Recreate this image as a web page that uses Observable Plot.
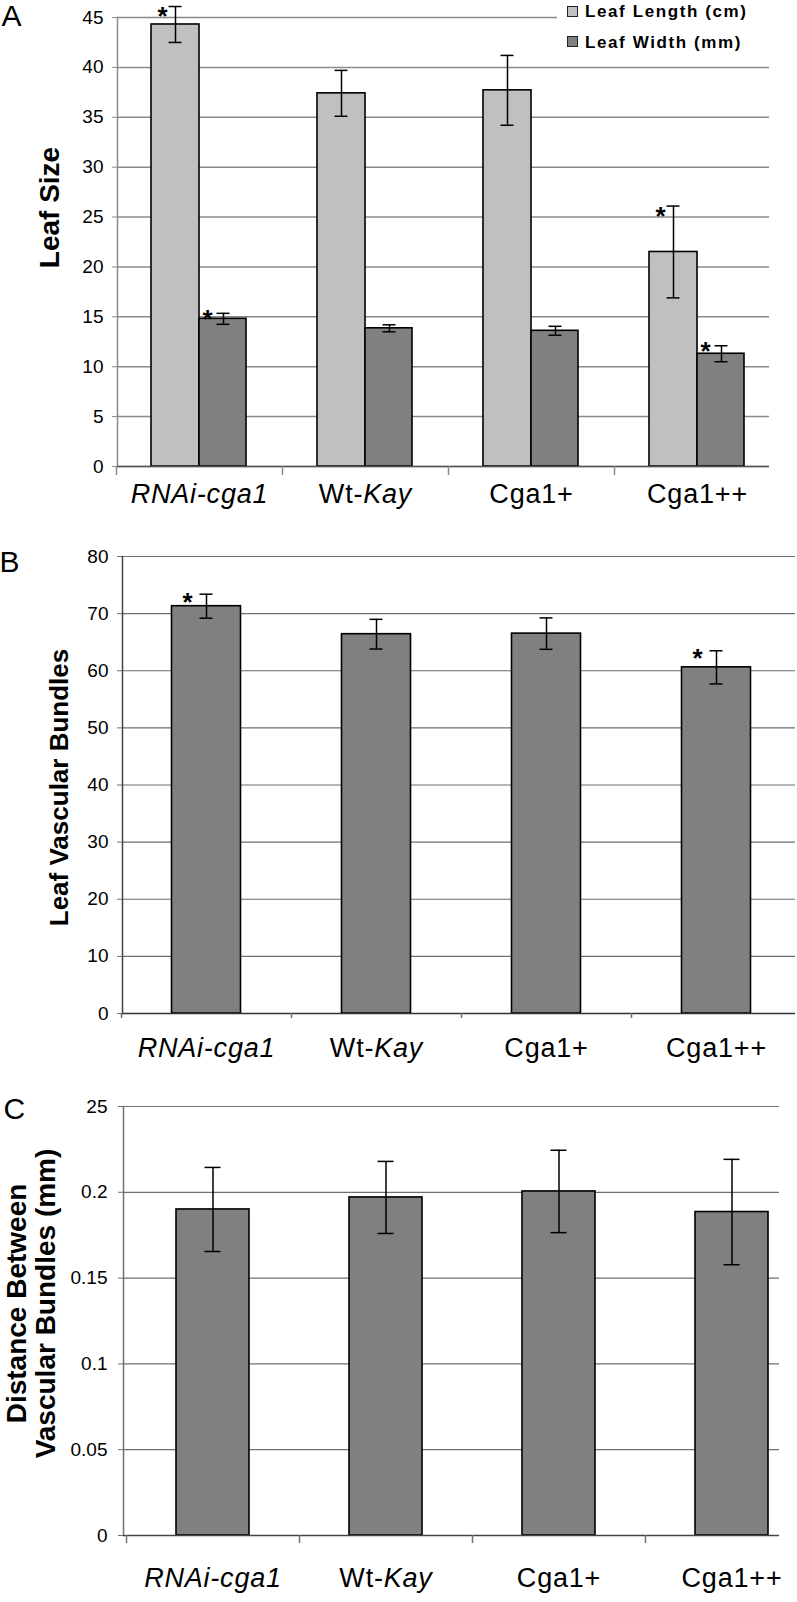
<!DOCTYPE html>
<html><head><meta charset="utf-8">
<script src="https://cdn.jsdelivr.net/npm/d3@7"></script>
<script src="https://cdn.jsdelivr.net/npm/@observablehq/plot@0.6"></script>
<style>
body{margin:0;background:#fff;font-family:"Liberation Sans",Arial,sans-serif}
#wrap{position:relative;width:797px;height:1602px;overflow:hidden;background:#fff}
#wrap svg{display:block}
.legend{position:absolute;left:557px;top:0;width:240px;height:58px;background:#fff}
.legend .sw{position:absolute;left:10px;width:9px;height:9px;border:1.5px solid #222}
.legend .lab{position:absolute;left:28px;font-size:17px;line-height:17px;font-weight:bold;letter-spacing:1.6px;color:#000;white-space:nowrap}
</style></head><body><div id="wrap"></div>
<script>
// ---- data ----
const categories = ["RNAi-cga1", "Wt-Kay", "Cga1+", "Cga1++"];
const leafLength = [44.3, 37.4, 37.7, 21.5];
const leafLengthErr = [1.8, 2.3, 3.5, 4.6];
const leafLengthSig = [true, false, false, true];
const leafWidth = [14.8, 13.85, 13.6, 11.3];
const leafWidthErr = [0.55, 0.35, 0.45, 0.8];
const leafWidthSig = [true, false, false, true];
const bundles = [71.3, 66.4, 66.5, 60.6];
const bundlesErr = [2.1, 2.6, 2.75, 2.9];
const bundlesSig = [true, false, false, true];
const distance = [0.19, 0.197, 0.2005, 0.1885];
const distanceErr = [0.0245, 0.021, 0.024, 0.0307];
const distanceSig = [false, false, false, false];
const ticksA = [0, 5, 10, 15, 20, 25, 30, 35, 40, 45];
const ticksB = [0, 10, 20, 30, 40, 50, 60, 70, 80];
const ticksC = [0, 0.05, 0.1, 0.15, 0.2, 0.25];
const tickLabelsC = ["0", "0.05", "0.1", "0.15", "0.2", "25"];
const legendLabels = ["Leaf Length (cm)", "Leaf Width (mm)"];
const colorLight = "#c0c0c0";
const colorDark = "#808080";

const FONT = "'Liberation Sans', Arial, sans-serif";
const wrap = document.getElementById("wrap");

function rows(values, errs, sig) {
  return categories.map((c, i) => ({cat: c, v: values[i], lo: values[i] - errs[i], hi: values[i] + errs[i], sig: sig[i]}));
}

function panel(cfg) {
  const W = 797;
  const step = (cfg.xRange[1] - cfg.xRange[0]) / categories.length;
  const half = step / 2;
  const marks = [];
  marks.push(Plot.gridY(cfg.yTicks, {stroke: cfg.gridColor, strokeOpacity: 1, strokeWidth: cfg.gridWidth}));
  for (const s of cfg.series) {
    marks.push(Plot.barY(s.data, {x: "cat", y: "v", fill: s.fill, stroke: "#000", strokeWidth: 1.6,
      insetLeft: half + s.barL, insetRight: half - s.barR}));
  }
  for (const s of cfg.series) {
    const ci = half - s.capW / 2;
    marks.push(Plot.ruleX(s.data, {x: "cat", y1: "lo", y2: "hi", dx: s.errDx, stroke: "#000", strokeWidth: 1.5}));
    marks.push(Plot.tickY(s.data, {x: "cat", y: "hi", dx: s.errDx, insetLeft: ci, insetRight: ci, stroke: "#000", strokeWidth: 1.5}));
    marks.push(Plot.tickY(s.data, {x: "cat", y: "lo", dx: s.errDx, insetLeft: ci, insetRight: ci, stroke: "#000", strokeWidth: 1.5}));
    marks.push(Plot.text(s.data.filter(d => d.sig), {x: "cat", y: "hi", text: () => "*", dx: s.errDx + s.starDx, dy: s.starDy || 0,
      lineAnchor: "top", fontSize: 26, fontWeight: "bold", fill: "#000"}));
  }
  marks.push(Plot.frame({anchor: "left", stroke: cfg.axisColor, strokeWidth: 1.5}));
  marks.push(Plot.ruleY([0], {stroke: cfg.baseColor, strokeWidth: 1.5}));
  marks.push(Plot.axisY({ticks: cfg.yTicks, tickFormat: cfg.tickFormat, tickSize: 5, tickPadding: cfg.tickPad,
    fontSize: 19, stroke: cfg.gridColor, fill: "#000", label: null}));
  marks.push(Plot.axisX({tickSize: 0, tickPadding: cfg.labelPad, fontSize: 27, fill: "#000", label: null}));
  marks.push(Plot.axisX({tickSize: cfg.sepTick, tickFormat: () => "", dx: -half, stroke: cfg.gridColor, strokeWidth: 1.5, label: null}));
  const frameMid = cfg.marginTop + (cfg.height - cfg.marginTop - cfg.marginBottom) / 2;
  marks.push(Plot.text([cfg.title], {frameAnchor: "left", textAnchor: "middle", lineAnchor: "middle", rotate: -90,
    dx: cfg.titleX - cfg.marginLeft, dy: cfg.titleY - frameMid,
    fontSize: cfg.titleSize, fontWeight: "bold", lineHeight: cfg.titleLH || 1, fill: "#000"}));
  marks.push(Plot.text([cfg.letter], {frameAnchor: "top-left", textAnchor: "start", lineAnchor: "top",
    dx: cfg.letterX - cfg.marginLeft, dy: cfg.letterY - cfg.marginTop, fontSize: 30, fill: "#000"}));

  const svg = Plot.plot({
    width: W, height: cfg.height,
    marginTop: cfg.marginTop, marginBottom: cfg.marginBottom, marginLeft: cfg.marginLeft, marginRight: cfg.marginRight,
    style: {fontFamily: FONT, background: "#fff", overflow: "hidden"},
    x: {type: "band", domain: categories, range: cfg.xRange, padding: 0, label: null},
    y: {domain: cfg.yDomain, label: null},
    marks
  });
  svg.querySelectorAll("text").forEach(t => {
    const c = t.textContent;
    if (categories.includes(c)) t.setAttribute("letter-spacing", "0.8");
    if (c === "RNAi-cga1") t.setAttribute("font-style", "italic");
    if (c === "Wt-Kay") {
      t.textContent = "Wt-";
      const ts = document.createElementNS("http://www.w3.org/2000/svg", "tspan");
      ts.setAttribute("font-style", "italic");
      ts.textContent = "Kay";
      t.appendChild(ts);
    }
  });
  wrap.appendChild(svg);
}

// Panel A
panel({
  height: 520, marginTop: 17, marginBottom: 54, marginLeft: 117, marginRight: 28,
  xRange: [116, 780], yDomain: [0, 45], yTicks: ticksA, tickFormat: d => String(d), tickPad: 9,
  gridColor: "#8a8a8a", gridWidth: 1.5, axisColor: "#8a8a8a", baseColor: "#555",
  labelPad: 17, sepTick: 9,
  title: "Leaf Size", titleX: 50, titleY: 207, titleSize: 28,
  letter: "A", letterX: 1, letterY: 4,
  series: [
    {data: rows(leafLength, leafLengthErr, leafLengthSig), fill: colorLight, barL: -48, barR: 0, errDx: -24, capW: 13, starDx: -13},
    {data: rows(leafWidth, leafWidthErr, leafWidthSig), fill: colorDark, barL: 0, barR: 47, errDx: 24, capW: 13, starDx: -16, starDy: -4}
  ]
});

// Panel B
panel({
  height: 550, marginTop: 36, marginBottom: 57, marginLeft: 122, marginRight: 2,
  xRange: [121, 801], yDomain: [0, 80], yTicks: ticksB, tickFormat: d => String(d), tickPad: 9,
  gridColor: "#6e6e6e", gridWidth: 1.2, axisColor: "#444", baseColor: "#333",
  labelPad: 24, sepTick: 5,
  title: "Leaf Vascular Bundles", titleX: 59, titleY: 267, titleSize: 26,
  letter: "B", letterX: -1, letterY: 30,
  series: [
    {data: rows(bundles, bundlesErr, bundlesSig), fill: colorDark, barL: -34.5, barR: 34.5, errDx: 0, capW: 13, starDx: -19, starDy: -2}
  ]
});

// Panel C
panel({
  height: 532, marginTop: 36, marginBottom: 67, marginLeft: 123, marginRight: 18,
  xRange: [126, 818], yDomain: [0, 0.25], yTicks: ticksC, tickFormat: d => tickLabelsC[ticksC.indexOf(d)], tickPad: 11,
  gridColor: "#707070", gridWidth: 1.2, axisColor: "#707070", baseColor: "#444",
  labelPad: 32, sepTick: 8,
  title: "Distance Between\nVascular Bundles (mm)", titleX: 31, titleY: 233, titleSize: 28, titleLH: 1.02,
  letter: "C", letterX: 3, letterY: 27,
  series: [
    {data: rows(distance, distanceErr, distanceSig), fill: colorDark, barL: -36.5, barR: 36.5, errDx: 0, capW: 16, starDx: -19}
  ]
});

// Legend (panel A, top right, over the plot)
const leg = document.createElement("div");
leg.className = "legend";
const legFills = [colorLight, colorDark];
const swTops = [6, 36];
const labTops = [3, 34];
legendLabels.forEach((l, i) => {
  const sw = document.createElement("div");
  sw.className = "sw"; sw.style.top = swTops[i] + "px"; sw.style.background = legFills[i];
  const lab = document.createElement("div");
  lab.className = "lab"; lab.style.top = labTops[i] + "px"; lab.textContent = l;
  leg.appendChild(sw); leg.appendChild(lab);
});
wrap.appendChild(leg);
</script></body></html>
